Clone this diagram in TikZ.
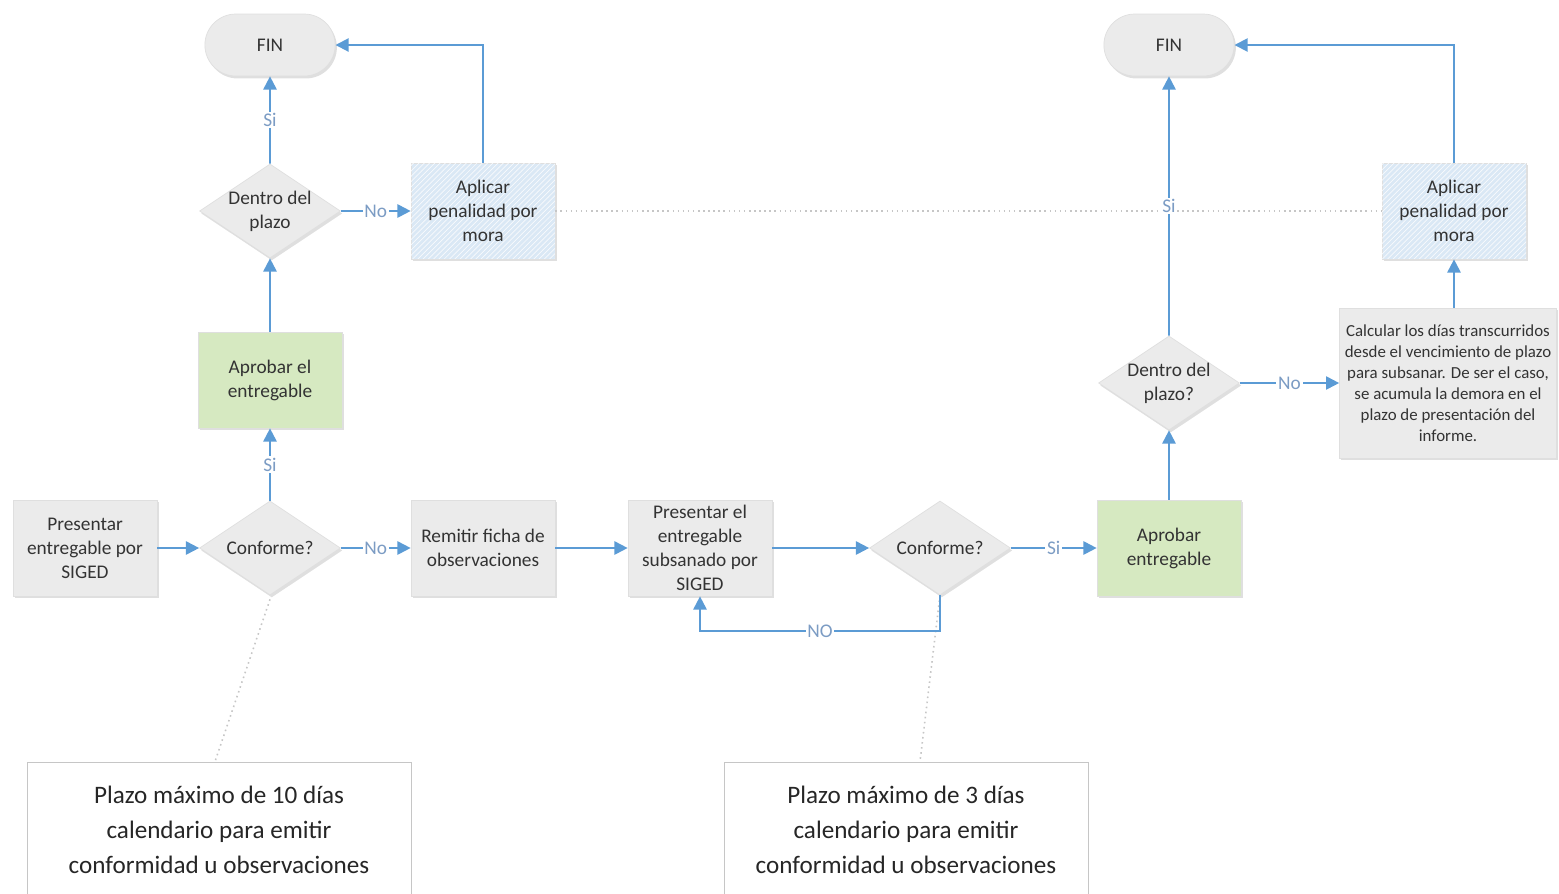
\documentclass[tikz,border=0pt]{standalone}
\usepackage{fontspec}
\setmainfont{Carlito}
\usepackage{tikz}
\usetikzlibrary{positioning}
\usetikzlibrary{shapes,shadows,arrows.meta,patterns}
\definecolor{flowBlue}{HTML}{5B9BD5}
\definecolor{labelBlue}{HTML}{7C9CC4}
\definecolor{boxGrey}{HTML}{EBEBEB}
\definecolor{boxBlue}{HTML}{DAE8F5}
\definecolor{boxGreen}{HTML}{D6E9C1}
\definecolor{textGrey}{HTML}{333333}
\tikzset{
    baseShape/.style={text=textGrey, align=center, font=\fontsize{11}{13.6}\selectfont,
        draw=gray!25, line width=0.4pt,
        drop shadow={shadow xshift=1pt, shadow yshift=-1.4pt, opacity=0.25, fill=gray}},
    procBox/.style={baseShape, rectangle, fill=boxGrey, minimum width=2.88cm, minimum height=1.92cm, inner sep=1pt},
    penaltyBox/.style={procBox, fill=boxBlue, postaction={pattern=north east lines, pattern color=white!80!boxBlue}},
    approveBox/.style={procBox, fill=boxGreen},
    decision/.style={baseShape, diamond, aspect=1.5, inner sep=-8pt, fill=boxGrey, minimum width=2.82cm, minimum height=1.88cm},
    endNode/.style={baseShape, rounded rectangle, fill=boxGrey, minimum width=2.84cm, minimum height=1.24cm},
    noteBox/.style={rectangle, draw=gray!45, fill=white, line width=0.5pt, align=center, text=black!85,
        font=\fontsize{14.3}{19.8}\selectfont, minimum width=7.68cm, minimum height=2.72cm},
    flow/.style={draw=flowBlue, line width=1.1pt, -{Triangle[length=7.5pt, width=7.5pt]}},
    flowLabel/.style={fill=white, text=labelBlue, inner sep=1pt, font=\fontsize{11}{13}\selectfont},
    guide/.style={draw=gray!45, dotted, line width=0.9pt}
}

\begin{document}
\begin{tikzpicture}[x=0.02cm, y=-0.02cm]
    \useasboundingbox (0,0) rectangle (1559,893);
    % left branch
    \node[endNode] (fin1) at (270,45) {FIN};
    \node[decision] (dentro1) at (270,211) {Dentro del\\plazo};
    \node[penaltyBox] (aplicar1) at (483,211) {Aplicar\\penalidad por\\mora};
    \node[approveBox] (aprobar1) at (270,380) {Aprobar el\\entregable};
    \node[procBox] (presentar1) at (85,548) {Presentar\\entregable por\\SIGED};
    \node[decision] (conforme1) at (270,548) {Conforme?};
    \node[procBox] (remitir) at (483,548) {Remitir ficha de\\observaciones};
    \node[procBox] (presentar2) at (700,548) {Presentar el\\entregable\\subsanado por\\SIGED};
    \node[decision] (conforme2) at (940,548) {Conforme?};
    % right branch
    \node[approveBox] (aprobar2) at (1169,548) {Aprobar\\entregable};
    \node[decision] (dentro2) at (1169,383) {Dentro del\\plazo?};
    \node[procBox, minimum width=4.34cm, minimum height=3cm, font=\fontsize{9.6}{11.9}\selectfont] (calcular) at (1448,383)
        {Calcular los días transcurridos\\desde el vencimiento de plazo\\para subsanar. De ser el caso,\\se acumula la demora en el\\plazo de presentación del\\informe.};
    \node[penaltyBox] (aplicar2) at (1454,211) {Aplicar\\penalidad por\\mora};
    \node[endNode] (fin2) at (1169,45) {FIN};
    % notes
    \node[noteBox] (nota1) at (219,830) {Plazo máximo de 10 días\\calendario para emitir\\conformidad u observaciones};
    \node[noteBox, minimum width=7.28cm] (nota2) at (906,830) {Plazo máximo de 3 días\\calendario para emitir\\conformidad u observaciones};
    % dotted guides
    \draw[guide] (aplicar1.east) -- (aplicar2.west);
    \draw[guide] ([yshift=-0.08cm]conforme1.south) -- ([xshift=-0.08cm]nota1.north);
    \draw[guide] (conforme2.south) -- ([xshift=0.28cm]nota2.north);
    % connectors
    \draw[flow] (presentar1) -- (conforme1);
    \draw[flow] (conforme1) -- node[flowLabel]{Si} (aprobar1);
    \draw[flow] (aprobar1) -- (dentro1);
    \draw[flow] (dentro1) -- node[flowLabel]{Si} (fin1);
    \draw[flow] (dentro1) -- node[flowLabel]{No} (aplicar1);
    \draw[flow] (aplicar1.north) |- (fin1.east);
    \draw[flow] (conforme1) -- node[flowLabel]{No} (remitir);
    \draw[flow] (remitir) -- (presentar2);
    \draw[flow] (presentar2) -- (conforme2);
    \draw[flow] (conforme2) -- node[flowLabel]{Si} (aprobar2);
    \draw[flow] (conforme2.south) -- ++(0,36) -| node[flowLabel, pos=0.25]{NO} (presentar2.south);
    \draw[flow] (aprobar2) -- (dentro2);
    \draw[flow] (dentro2) -- node[flowLabel]{Si} (fin2);
    \draw[flow] (dentro2) -- node[flowLabel]{No} (calcular);
    \draw[flow] (calcular.north -| aplicar2.south) -- (aplicar2.south);
    \draw[flow] (aplicar2.north) |- (fin2.east);
\end{tikzpicture}
\end{document}
